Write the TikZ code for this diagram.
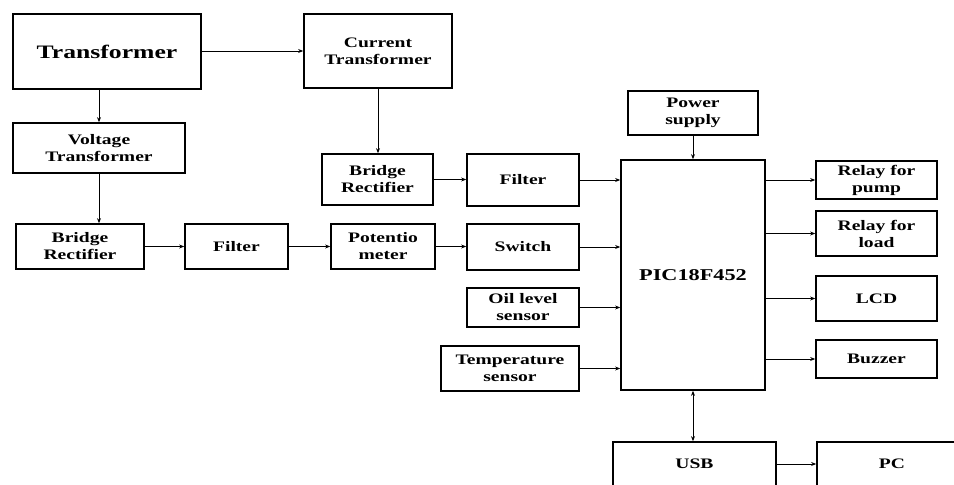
\documentclass[tikz,border=0pt]{standalone}
\usepackage{fontspec}
\setmainfont{Liberation Serif}[FakeStretch=1.35]
\usetikzlibrary{arrows.meta}
\begin{document}
\begin{tikzpicture}[x=1pt,y=-1pt,
  box/.style={draw, line width=1.7pt, inner sep=0pt, align=center,
    font=\fontsize{14.5}{17}\selectfont\bfseries},
  arr/.style={line width=0.8pt, -{Stealth[length=5pt,width=4pt]}},
  darr/.style={line width=0.8pt, {Stealth[length=5pt,width=4pt]}-{Stealth[length=5pt,width=4pt]}}]
\useasboundingbox (0,0) rectangle (954,485);
\clip (0,0) rectangle (954,485);
\node[box, minimum width=188pt, minimum height=75pt, font=\fontsize{19}{22}\selectfont\bfseries] (T) at (107,51.5) {Transformer};
\node[box, minimum width=148pt, minimum height=74pt] (CT) at (378,51) {Current\\Transformer};
\node[box, minimum width=172pt, minimum height=50pt] (VT) at (99,148) {Voltage\\Transformer};
\node[box, minimum width=128pt, minimum height=45pt] (BR1) at (80,246.5) {Bridge\\Rectifier};
\node[box, minimum width=103pt, minimum height=45pt] (F1) at (236.5,246.5) {Filter};
\node[box, minimum width=104pt, minimum height=45pt] (POT) at (383,246.5) {Potentio\\meter};
\node[box, minimum width=111pt, minimum height=51pt] (BR2) at (377.5,179.5) {Bridge\\Rectifier};
\node[box, minimum width=112pt, minimum height=52pt] (F2) at (523,180) {Filter};
\node[box, minimum width=112pt, minimum height=46pt] (SW) at (523,247) {Switch};
\node[box, minimum width=112pt, minimum height=39pt] (OIL) at (523,307.5) {Oil level\\sensor};
\node[box, minimum width=138pt, minimum height=45pt] (TEMP) at (510,368.5) {Temperature\\sensor};
\node[box, minimum width=130pt, minimum height=44pt] (PS) at (693,113) {Power\\supply};
\node[box, minimum width=144pt, minimum height=230pt, font=\fontsize{16.5}{19}\selectfont\bfseries] (PIC) at (693,275) {PIC18F452};
\node[box, minimum width=121pt, minimum height=38pt] (RP) at (876.5,180) {Relay for\\pump};
\node[box, minimum width=121pt, minimum height=45pt] (RL) at (876.5,233.5) {Relay for\\load};
\node[box, minimum width=121pt, minimum height=45pt] (LCD) at (876.5,298.5) {LCD};
\node[box, minimum width=121pt, minimum height=38pt] (BZ) at (876.5,359) {Buzzer};
\node[box, minimum width=163pt, minimum height=44pt] (USB) at (694.5,464) {USB};
\node[box, minimum width=150pt, minimum height=44pt] (PC) at (892,464) {PC};
\draw[arr] (T.east |- CT.west) -- (CT.west);
\draw[arr] (VT.north |- T.south) -- (VT.north);
\draw[arr] (VT.south) -- (VT.south |- BR1.north);
\draw[arr] (CT.south) -- (CT.south |- BR2.north);
\draw[arr] (BR1.east) -- (F1.west);
\draw[arr] (F1.west -| F1.east) -- (POT.west);
\draw[arr] (POT.east) -- (POT.east -| SW.west);
\draw[arr] (BR2.east) -- (BR2.east -| F2.west);
\draw[arr] (F2.east) -- (F2.east -| PIC.west);
\draw[arr] (SW.east) -- (SW.east -| PIC.west);
\draw[arr] (OIL.east) -- (OIL.east -| PIC.west);
\draw[arr] (TEMP.east) -- (TEMP.east -| PIC.west);
\draw[arr] (PS.south) -- (PS.south |- PIC.north);
\draw[arr] (PIC.east |- RP.west) -- (RP.west);
\draw[arr] (PIC.east |- RL.west) -- (RL.west);
\draw[arr] (PIC.east |- LCD.west) -- (LCD.west);
\draw[arr] (PIC.east |- BZ.west) -- (BZ.west);
\draw[darr] (PIC.south) -- (PIC.south |- USB.north);
\draw[arr] (USB.east) -- (PC.west);
\end{tikzpicture}
\end{document}
